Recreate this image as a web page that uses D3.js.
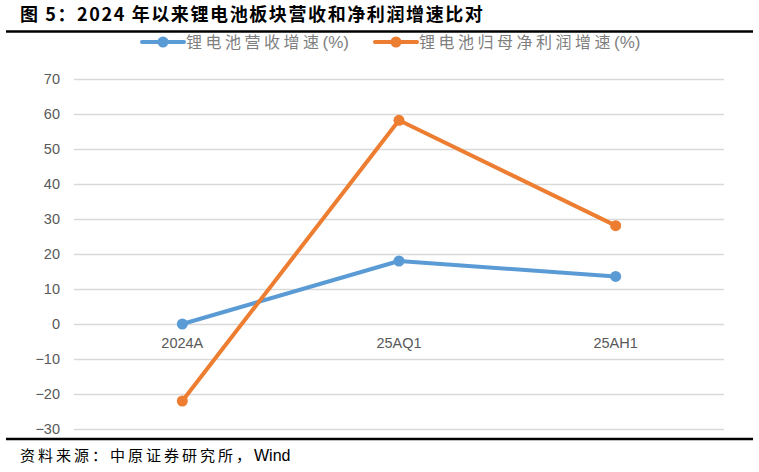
<!DOCTYPE html>
<html>
<head>
<meta charset="utf-8">
<script src="https://cdn.jsdelivr.net/npm/d3@7"></script>
<style>
  body { margin: 0; background: #fff; }
  svg { display: block; }
</style>
</head>
<body>
<svg id="chart" width="759" height="472"></svg>
<script>
// chart data
const categories = ["2024A", "25AQ1", "25AH1"];
const revenueGrowth = [0, 18, 13.6];
const profitGrowth = [-22, 58.2, 28.1];
const yTicks = [-30, -20, -10, 0, 10, 20, 30, 40, 50, 60, 70];
const seriesNames = ["锂电池营收增速", "锂电池归母净利润增速"];
const colors = ["#5B9BD5", "#ED7D31"];

const svg = d3.select("#chart");
const width = 759, height = 472;
const margin = { top: 79, right: 35, bottom: 43, left: 74 };
const cjk = "'Noto Sans CJK SC', sans-serif";
const latin = "Arial, 'Liberation Sans', sans-serif";

// title + rules
svg.append("text")
    .attr("x", 20)
    .attr("y", 21)
    .style("font-family", cjk)
    .style("font-size", "18px")
    .style("font-weight", "bold")
    .style("letter-spacing", "1.6px")
    .attr("fill", "#000")
    .text("图 5：2024 年以来锂电池板块营收和净利润增速比对");

svg.append("line")
    .attr("x1", 6).attr("x2", 753)
    .attr("y1", 31.5).attr("y2", 31.5)
    .attr("stroke", "#000").attr("stroke-width", 2.5);

svg.append("line")
    .attr("x1", 6).attr("x2", 753)
    .attr("y1", 439).attr("y2", 439)
    .attr("stroke", "#000").attr("stroke-width", 2.5);

svg.append("text")
    .attr("x", 20)
    .attr("y", 461)
    .style("font-family", cjk)
    .style("font-size", "15px")
    .style("letter-spacing", "3px")
    .attr("fill", "#000")
    .text("资料来源：中原证券研究所，")
    .append("tspan")
    .style("font-family", latin)
    .style("font-size", "16px")
    .style("letter-spacing", "0px")
    .text("Wind");

// scales
const x = d3.scaleBand()
    .domain(categories)
    .range([margin.left, width - margin.right]);

const y = d3.scaleLinear()
    .domain([-30, 70])
    .range([429, 79]);

// gridlines
svg.append("g")
    .attr("transform", `translate(${margin.left},0)`)
    .call(d3.axisLeft(y)
        .tickValues(yTicks)
        .tickSize(-(width - margin.right - margin.left))
        .tickFormat(""))
    .call(g => g.select(".domain").remove())
    .selectAll("line")
    .attr("stroke", "#d9d9d9")
    .attr("stroke-width", 1.5);

// y tick labels
svg.append("g")
    .attr("transform", `translate(${margin.left},0)`)
    .call(d3.axisLeft(y)
        .tickValues(yTicks)
        .tickSize(0)
        .tickPadding(14)
        .tickFormat(d => d < 0 ? "\u2212" + Math.abs(d) : d))
    .call(g => g.select(".domain").remove())
    .selectAll("text")
    .style("font-family", latin)
    .style("font-size", "14.5px")
    .attr("fill", "#595959");

// x category labels, sitting just below the zero line
svg.append("g")
    .attr("transform", `translate(0,${y(0)})`)
    .call(d3.axisBottom(x).tickSize(0).tickPadding(14))
    .call(g => g.select(".domain").remove())
    .selectAll("text")
    .style("font-family", latin)
    .style("font-size", "14.5px")
    .attr("fill", "#595959");

// lines
const series = [revenueGrowth, profitGrowth];
const line = d3.line()
    .x((d, i) => x(categories[i]) + x.bandwidth() / 2)
    .y(d => y(d));

series.forEach((vals, k) => {
    const g = svg.append("g");
    g.append("path")
        .datum(vals)
        .attr("fill", "none")
        .attr("stroke", colors[k])
        .attr("stroke-width", 4)
        .attr("stroke-linejoin", "round")
        .attr("d", line);
    g.selectAll("circle")
        .data(vals)
        .join("circle")
        .attr("cx", (d, i) => x(categories[i]) + x.bandwidth() / 2)
        .attr("cy", d => y(d))
        .attr("r", 5.5)
        .attr("fill", colors[k]);
});

// legend
const legendX = [142, 375];
const legend = svg.append("g")
    .selectAll("g")
    .data(seriesNames)
    .join("g")
    .attr("transform", (d, i) => `translate(${legendX[i]},42)`);
legend.append("line")
    .attr("x1", 0).attr("x2", 42)
    .attr("stroke", (d, i) => colors[i])
    .attr("stroke-width", 4)
    .attr("stroke-linecap", "round");
legend.append("circle")
    .attr("cx", 21)
    .attr("r", 5.5)
    .attr("fill", (d, i) => colors[i]);
const legendText = legend.append("text")
    .attr("x", 44)
    .attr("dy", "0.36em")
    .style("font-family", cjk)
    .style("font-size", "16px")
    .style("letter-spacing", "3.5px")
    .attr("fill", "#7f7f7f")
    .text(d => d);
legendText.append("tspan")
    .style("letter-spacing", "0px")
    .style("font-family", latin)
    .style("font-size", "17px")
    .text("(%)");
</script>
</body>
</html>
